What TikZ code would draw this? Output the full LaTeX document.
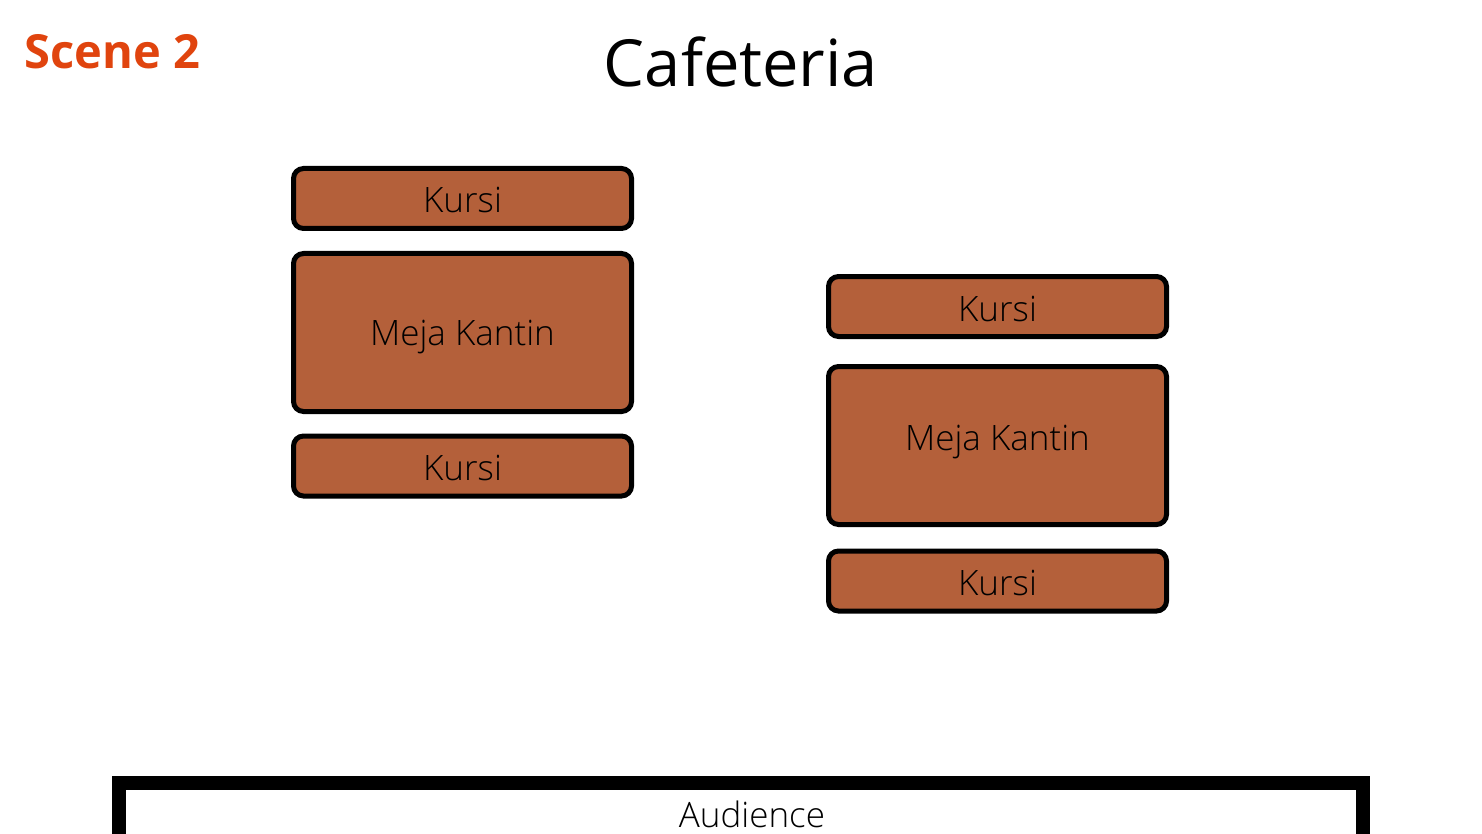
\documentclass[tikz,border=0pt]{standalone}
\usepackage{fontspec}
\setmainfont{Open Sans}
\newfontfamily\lightfont{Open Sans Light}
\definecolor{wood}{RGB}{180,96,58}
\definecolor{scenecol}{RGB}{224,68,14}
\newcommand{\lowered}[2]{\raisebox{-#1}[\height][\depth]{#2}}
\begin{document}
\begin{tikzpicture}[x=1pt,y=-1pt,
  furn/.style={draw=black,line width=5pt,rounded corners=10pt,fill=wood,minimum width=338pt,inner sep=0pt,font=\lightfont\fontsize{35}{40}\selectfont},
  chair/.style={furn,minimum height=60pt},
  table/.style={furn,minimum height=158pt}]
\useasboundingbox (0,0) rectangle (1482,834);
\node[anchor=base west,font=\bfseries\fontsize{47}{56}\selectfont,text=scenecol,inner sep=0pt] (scene) at (24.5,69) {Scene 2};
\node[anchor=base,font=\fontsize{65}{72}\selectfont,inner sep=0pt] (title) at (741,87) {Cafeteria};
\node[chair] (lc1) at (462.5,198.5) {\lowered{1.5pt}{Kursi}};
\node[table] (lt) at (462.5,332.5) {\lowered{5pt}{Meja Kantin}};
\node[chair] (lc2) at (462.5,466) {\lowered{1.5pt}{Kursi}};
\node[chair] (rc1) at (997.5,306.5) {\lowered{2pt}{Kursi}};
\node[table] (rt) at (997.5,445.5) {};
\node[font=\lightfont\fontsize{35}{40}\selectfont] (rtl) at (997.5,442) {Meja Kantin};
\node[chair] (rc2) at (997.5,581) {\lowered{2pt}{Kursi}};
\begin{scope}
\clip (0,0) rectangle (1482,834);
\draw[line width=14pt] (119,860) -- (119,783) -- (1363,783) -- (1363,860);
\end{scope}
\node[font=\lightfont\fontsize{35}{40}\selectfont] (aud) at (752,814) {Audience};
\end{tikzpicture}
\end{document}
